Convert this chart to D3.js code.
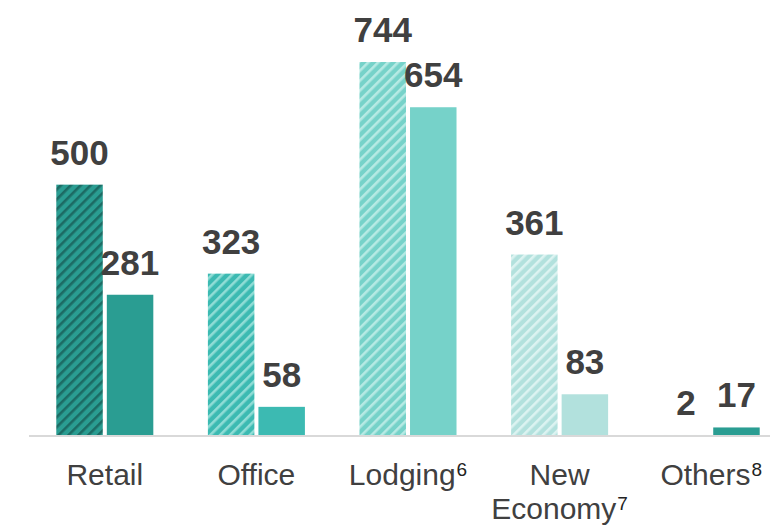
<!DOCTYPE html>
<html>
<head>
<meta charset="utf-8">
<script src="https://cdn.jsdelivr.net/npm/d3@7"></script>
<style>
  body { margin: 0; background: #fff; }
  text { font-family: "Liberation Sans", Arial, sans-serif; }
</style>
</head>
<body>
<div id="chart-area"></div>
<script>
// data
var categories = ["Retail", "Office", "Lodging", "New Economy", "Others"];
var catLines = [["Retail"], ["Office"], ["Lodging"], ["New", "Economy"], ["Others"]];
var footnotes = ["", "", "6", "7", "8"];
var hatchedValues = [500, 323, 744, 361, 2];
var solidValues = [281, 58, 654, 83, 17];

var baseColors = ["#2a9d92", "#3cbab2", "#76d2c9", "#b2e1dd", "#2a9d92"];
var stripeColors = ["#1c6b64", "#90ddd6", "#b6eae4", "#dcf3f1", "#1c6b64"];

var width = 770, height = 526;
var baseline = 436;

var svg = d3.select("#chart-area")
    .append("svg")
    .attr("width", width)
    .attr("height", height);

var x0 = d3.scaleBand()
    .domain(categories)
    .range([29, 787])
    .paddingInner(0.36)
    .paddingOuter(0.18);

var x1 = d3.scaleBand()
    .domain(["hatched", "solid"])
    .range([0, x0.bandwidth()])
    .paddingInner(0.08);

var y = d3.scaleLinear()
    .domain([0, 744])
    .range([baseline, 62]);

// stripe patterns
var defs = svg.append("defs");
categories.forEach(function(c, i) {
    var p = defs.append("pattern")
        .attr("id", "hatch" + i)
        .attr("patternUnits", "userSpaceOnUse")
        .attr("width", 7)
        .attr("height", 7)
        .attr("patternTransform", "rotate(45)");
    p.append("rect")
        .attr("width", 7).attr("height", 7)
        .attr("fill", baseColors[i]);
    p.append("rect")
        .attr("x", 0).attr("width", 2.6).attr("height", 7)
        .attr("fill", stripeColors[i]);
});

var data = categories.map(function(c, i) {
    return { cat: c, i: i, hatched: hatchedValues[i], solid: solidValues[i] };
});

var groups = svg.selectAll(".group")
    .data(data)
    .enter()
    .append("g")
    .attr("transform", function(d) { return "translate(" + x0(d.cat) + ",0)"; });

groups.append("rect")
    .attr("x", x1("hatched"))
    .attr("width", x1.bandwidth())
    .attr("y", function(d) { return y(d.hatched); })
    .attr("height", function(d) { return baseline - y(d.hatched); })
    .attr("fill", function(d) { return "url(#hatch" + d.i + ")"; });

groups.append("rect")
    .attr("x", x1("solid"))
    .attr("width", x1.bandwidth())
    .attr("y", function(d) { return y(d.solid); })
    .attr("height", function(d) { return baseline - y(d.solid); })
    .attr("fill", function(d) { return baseColors[d.i]; });

// axis line (drawn over the bar feet)
svg.append("line")
    .attr("x1", 29).attr("x2", width)
    .attr("y1", baseline).attr("y2", baseline)
    .attr("stroke", "#d9d9d9")
    .attr("stroke-width", 2.2);

// value labels
groups.append("text")
    .attr("x", x1("hatched") + x1.bandwidth() / 2)
    .attr("y", function(d) { return y(d.hatched) - 20; })
    .attr("text-anchor", "middle")
    .style("font-size", "35px")
    .style("font-weight", "bold")
    .attr("fill", "#404040")
    .text(function(d) { return d.hatched; });

groups.append("text")
    .attr("x", x1("solid") + x1.bandwidth() / 2)
    .attr("y", function(d) { return y(d.solid) - 20; })
    .attr("text-anchor", "middle")
    .style("font-size", "35px")
    .style("font-weight", "bold")
    .attr("fill", "#404040")
    .text(function(d) { return d.solid; });

// category labels
groups.each(function(d) {
    var g = d3.select(this);
    var lines = catLines[d.i];
    lines.forEach(function(line, k) {
        var t = g.append("text")
            .attr("x", x0.bandwidth() / 2)
            .attr("y", 485 + k * 34)
            .attr("text-anchor", "middle")
            .style("font-size", "30px")
            .attr("fill", "#404040");
        t.append("tspan").text(line);
        if (k === lines.length - 1 && footnotes[d.i]) {
            t.append("tspan")
                .attr("dx", 1)
                .attr("dy", -9)
                .style("font-size", "19px")
                .attr("fill", "#222")
                .text(footnotes[d.i]);
        }
    });
});
</script>
</body>
</html>
